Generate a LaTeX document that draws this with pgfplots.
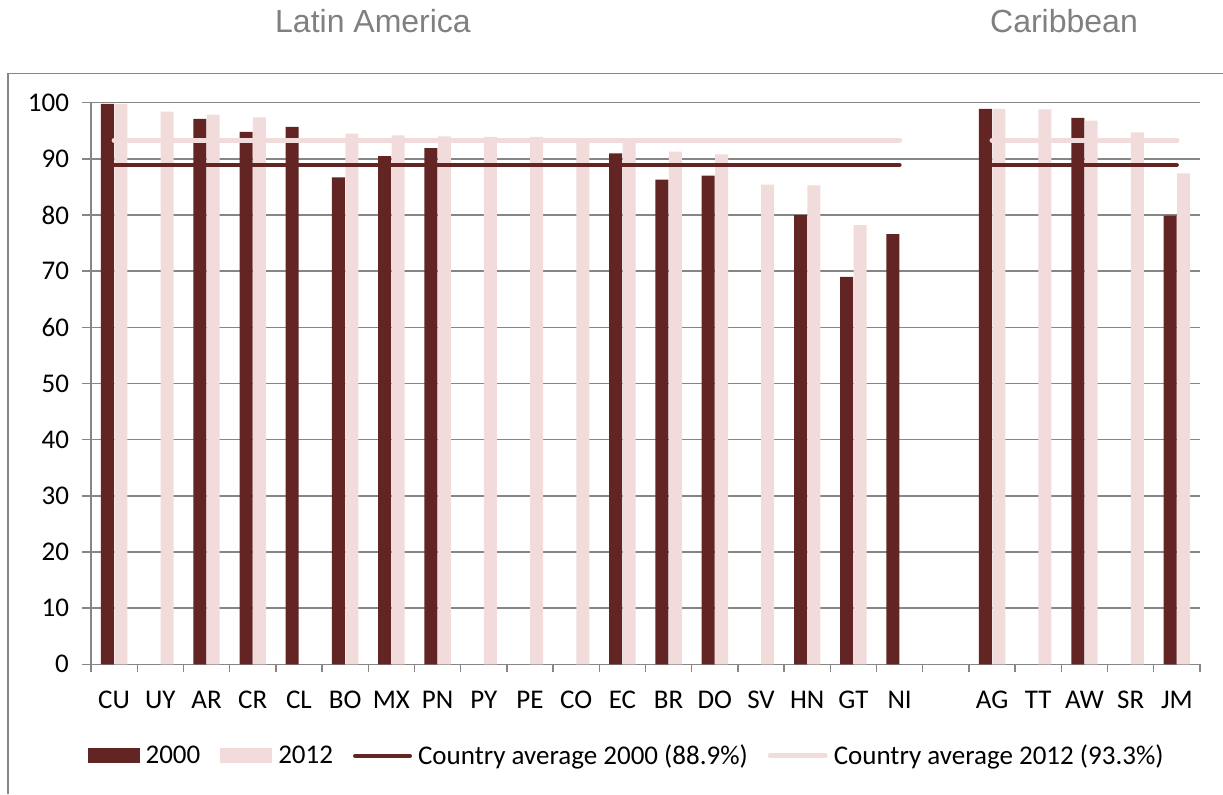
\documentclass[border=0pt]{standalone}
\usepackage{fontspec}
\setmainfont{Carlito}
\newfontfamily\titlefont{Liberation Sans}
\usepackage{pgfplots}
\pgfplotsset{compat=1.18}
\definecolor{cdark}{HTML}{632523}
\definecolor{clight}{HTML}{F2DCDB}
\definecolor{cgrid}{HTML}{868686}
\definecolor{ctitle}{HTML}{808080}
\begin{document}
\begin{tikzpicture}
\path[use as bounding box] (0pt,0pt) rectangle (611.5pt,-397pt);
\draw[cgrid, line width=0.65pt] (4pt,-397pt) -- (4pt,-36.75pt) -- (611.5pt,-36.75pt);
\node[anchor=base, font=\titlefont\fontsize{16}{19}\selectfont, text=ctitle] at (186.5pt,-16.15pt) {Latin America};
\node[anchor=base, font=\titlefont\fontsize{16}{19}\selectfont, text=ctitle] at (532pt,-16.15pt) {Caribbean};
\begin{axis}[
  at={(45.5pt,-332.15pt)}, anchor=south west,
  scale only axis, width=554.5pt, height=280.8pt,
  xmin=-0.5, xmax=23.5, ymin=0, ymax=100,
  axis x line*=bottom, axis y line*=left,
  axis line style={-, cgrid, line width=0.7pt},
  xtick={0,...,23},
  xticklabels={CU,UY,AR,CR,CL,BO,MX,PN,PY,PE,CO,EC,BR,DO,SV,HN,GT,NI,,AG,TT,AW,SR,JM},
  minor xtick={-0.5,0.5,...,23.5},
  ytick={0,10,...,100},
  tick align=outside,
  major tick length=4.5pt, minor tick length=4pt,
  major x tick style={draw=none},
  every tick/.style={cgrid, line width=0.7pt},
  minor x tick style={cgrid, line width=0.7pt},
  ymajorgrids, grid style={cgrid, line width=0.7pt},
  /pgf/number format/assume math mode=true,
  ticklabel style={font=\fontsize{13.5}{16}\selectfont},
  xticklabel style={yshift=-5.5pt},
  yticklabel style={xshift=-3pt},
  legend style={at={(0.4847,-0.163)}, anchor=center, draw=none, fill=none,
    legend columns=4, font=\fontsize{13.5}{16}\selectfont,
    nodes={inner xsep=3pt},
    /tikz/every even column/.append style={column sep=7pt}},
]
\addplot[fill=cdark, draw=none, ybar, bar width=6.5pt, bar shift=-3.35pt,
  legend image code/.code={\fill[cdark] (0pt,-3.75pt) rectangle (26pt,3.75pt);}]
  coordinates {(0,99.8) (2,97.1) (3,94.8) (4,95.7) (5,86.7) (6,90.5) (7,91.9)
   (11,91.0) (12,86.3) (13,87.0) (15,80.0) (16,69.0) (17,76.6)
   (19,98.9) (21,97.3) (23,79.9)};
\addlegendentry{2000}
\addplot[fill=clight, draw=none, ybar, bar width=6.5pt, bar shift=3.35pt,
  legend image code/.code={\fill[clight] (0pt,-3.75pt) rectangle (26pt,3.75pt);}]
  coordinates {(0,99.8) (1,98.4) (2,97.9) (3,97.4) (5,94.5) (6,94.2) (7,94.0)
   (8,93.9) (9,93.9) (10,93.4) (11,93.2) (12,91.3) (13,90.8) (14,85.4)
   (15,85.3) (16,78.2) (19,98.9) (20,98.8) (21,96.8) (22,94.7) (23,87.4)};
\addlegendentry{2012}
\addplot[cdark, line width=2pt, line cap=round, mark=none,
  legend image code/.code={\draw[cdark, line width=2pt] (0pt,0pt) -- (27.5pt,0pt);}]
  coordinates {(0,88.9) (17,88.9)};
\addlegendentry{Country average 2000 (88.9\%)}
\addplot[clight, line width=2.5pt, line cap=round, mark=none,
  legend image code/.code={\draw[clight, line width=2.5pt] (0pt,0pt) -- (27.5pt,0pt);}]
  coordinates {(0,93.3) (17,93.3)};
\addlegendentry{Country average 2012 (93.3\%)}
\addplot[cdark, line width=2pt, line cap=round, mark=none, forget plot]
  coordinates {(19,88.9) (23,88.9)};
\addplot[clight, line width=2.5pt, line cap=round, mark=none, forget plot]
  coordinates {(19,93.3) (23,93.3)};
\end{axis}
\end{tikzpicture}
\end{document}
